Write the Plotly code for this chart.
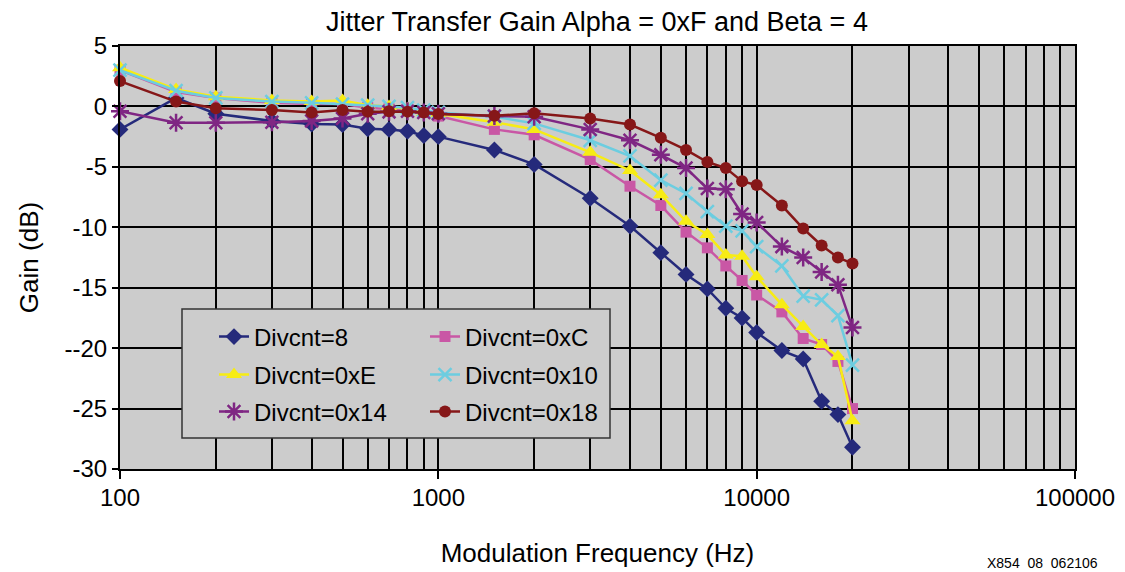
import plotly.graph_objects as go

freq = [100, 150, 200, 300, 400, 500, 600, 700, 800, 900, 1000, 1500, 2000, 3000,
        4000, 5000, 6000, 7000, 8000, 9000, 10000, 12000, 14000, 16000, 18000, 20000]

div_8 = [-1.9, 0.7, -0.6, -1.2, -1.45, -1.5, -1.85, -1.9, -2.05, -2.4, -2.5, -3.6, -4.8,
         -7.6, -9.9, -12.1, -13.9, -15.1, -16.7, -17.5, -18.7, -20.2, -20.9, -24.4, -25.5, -28.2]
div_0xC = [3.0, 1.2, 0.7, 0.3, 0.2, 0.2, -0.1, -0.2, -0.3, -0.5, -0.8, -1.9, -2.35,
           -4.4, -6.6, -8.2, -10.4, -11.7, -13.2, -14.4, -15.6, -17.0, -19.2, -19.7, -21.1, -25.0]
div_0xE = [3.2, 1.4, 0.8, 0.5, 0.4, 0.5, 0.1, 0.0, -0.2, -0.5, -0.6, -1.3, -1.9,
           -3.8, -5.3, -7.3, -9.5, -10.6, -12.3, -12.4, -14.1, -16.4, -18.2, -19.7, -20.7, -26.0]
div_0x10 = [3.0, 1.3, 0.7, 0.4, 0.3, 0.2, 0.1, 0.0, -0.1, -0.3, -0.5, -0.85, -1.4,
            -2.8, -4.1, -6.1, -7.2, -8.7, -9.9, -10.3, -11.6, -13.2, -15.7, -16.0, -17.3, -21.4]
div_0x14 = [-0.4, -1.35, -1.35, -1.3, -1.2, -1.0, -0.6, -0.45, -0.4, -0.5, -0.6, -0.8, -0.85,
            -1.9, -2.8, -4.0, -5.1, -6.8, -6.85, -8.9, -9.6, -11.6, -12.5, -13.7, -14.75, -18.3]
div_0x18 = [2.1, 0.4, -0.15, -0.3, -0.5, -0.3, -0.43, -0.4, -0.43, -0.5, -0.62, -0.78, -0.56,
            -1.0, -1.5, -2.6, -3.6, -4.6, -5.1, -6.2, -6.5, -8.2, -10.1, -11.5, -12.5, -13.0]

y_tickvals = [5, 0, -5, -10, -15, -20, -25, -30]
y_ticktext = ["5", "0", "-5", "-10", "-15", "--20", "-25", "-30"]
x_tickvals = [100, 1000, 10000, 100000]
x_ticktext = ["100", "1000", "10000", "100000"]

series = [
    ("Divcnt=8", div_8, "#252a7b", "diamond", 13, 0, "legend"),
    ("Divcnt=0xC", div_0xC, "#c957a5", "square", 11, 0, "legend2"),
    ("Divcnt=0xE", div_0xE, "#f7ec14", "triangle-up", 14, 0, "legend3"),
    ("Divcnt=0x10", div_0x10, "#6ccde0", "x-thin-open", 13, 2.5, "legend4"),
    ("Divcnt=0x14", div_0x14, "#7f2683", "asterisk-open", 15, 2.5, "legend5"),
    ("Divcnt=0x18", div_0x18, "#861718", "circle", 12, 0, "legend6"),
]

FONT = "Liberation Sans, Arial, Helvetica, sans-serif"

# The page body adds an 8px offset; work in screen pixels and subtract it.
OFF = 8
FW, FH = 1125 - OFF, 572 - OFF
L, R, T, B = 120 - OFF, 1075 - OFF, 46 - OFF, 469 - OFF
W, H = R - L, B - T


def px(x):
    return (x - OFF - L) / W


def py(y):
    return (B - (y - OFF)) / H


fig = go.Figure()
for name, vals, color, sym, size, lw, leg in series:
    marker = dict(symbol=sym, size=size, color=color)
    if lw:
        marker["line"] = dict(color=color, width=lw)
    fig.add_trace(go.Scatter(
        x=freq, y=vals, name=name, mode="lines+markers",
        line=dict(color=color, width=2.5), marker=marker,
        cliponaxis=False, legend=leg, showlegend=True,
    ))

leg_common = dict(bgcolor="rgba(0,0,0,0)", borderwidth=0, visible=True,
                  font=dict(family=FONT, size=24, color="black"),
                  xanchor="left", yanchor="middle", xref="paper", yref="paper")
rows = [337, 375, 412]
lx, rx = 214, 425
fig.update_layout(
    showlegend=True,
    legend=dict(x=px(lx), y=py(rows[0]), **leg_common),
    legend2=dict(x=px(rx), y=py(rows[0]), **leg_common),
    legend3=dict(x=px(lx), y=py(rows[1]), **leg_common),
    legend4=dict(x=px(rx), y=py(rows[1]), **leg_common),
    legend5=dict(x=px(lx), y=py(rows[2]), **leg_common),
    legend6=dict(x=px(rx), y=py(rows[2]), **leg_common),
)

fig.add_shape(type="rect", xref="paper", yref="paper",
              x0=px(182), x1=px(610), y0=py(438), y1=py(309),
              fillcolor="#cccccc", line=dict(color="#333333", width=1.5), layer="above")

fig.update_layout(
    width=FW, height=FH,
    margin=dict(l=L, r=FW - R, t=T, b=FH - B),
    paper_bgcolor="white", plot_bgcolor="#cccccc",
    font=dict(family=FONT, color="black"),
    title=dict(text="Jitter Transfer Gain Alpha = 0xF and Beta = 4",
               x=(597 - OFF) / FW, xanchor="center", xref="container",
               y=1 - (22 - OFF) / FH, yanchor="middle", yref="container",
               font=dict(size=27, family=FONT, color="black")),
    xaxis=dict(type="log", range=[2, 5], tickvals=x_tickvals, ticktext=x_ticktext,
               tickfont=dict(size=24, family=FONT), ticks="outside", ticklen=8,
               tickcolor="black", tickwidth=1.5, ticklabelstandoff=-2,
               showline=True, linecolor="black", linewidth=2, mirror=True,
               showgrid=True, gridcolor="black", gridwidth=1.5,
               minor=dict(dtick="D1", showgrid=True, gridcolor="black", gridwidth=1.5, ticks=""),
               title=dict(text="Modulation Frequency (Hz)", font=dict(size=26, family=FONT), standoff=34),
               automargin=False, zeroline=False),
    yaxis=dict(range=[-30, 5], tickvals=y_tickvals, ticktext=y_ticktext,
               tickfont=dict(size=24, family=FONT), ticks="outside", ticklen=6,
               tickcolor="black", tickwidth=1.5,
               showline=True, linecolor="black", linewidth=2, mirror=True,
               showgrid=True, gridcolor="black", gridwidth=1.5, zeroline=False,
               title=dict(text="Gain (dB)", font=dict(size=26, family=FONT), standoff=18),
               automargin=False),
)

fig.add_annotation(text="X854  08  062106", xref="paper", yref="paper",
                   x=px(1100), y=py(563), xanchor="right", yanchor="middle",
                   showarrow=False, font=dict(size=14, family=FONT, color="black"))

fig.write_html("out.html")
